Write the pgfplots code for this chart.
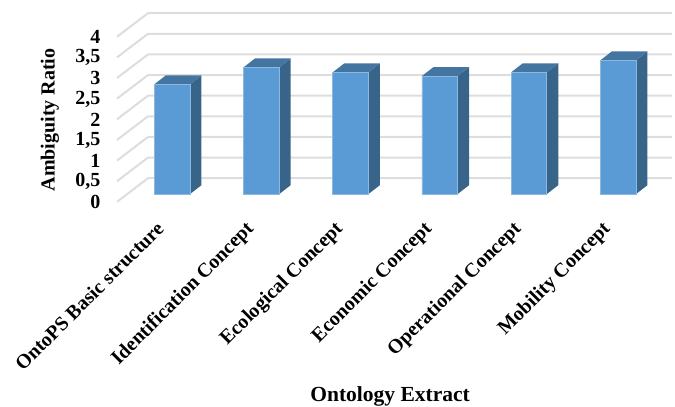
\documentclass[border=0pt]{standalone}
\usepackage{fontspec}
\setmainfont{Liberation Serif}
\usepackage{pgfplots}
\pgfplotsset{compat=1.18}
\definecolor{barfront}{HTML}{5B9BD5}
\definecolor{barside}{HTML}{39648A}
\definecolor{bartop}{HTML}{4475A1}
\definecolor{wallgrid}{HTML}{DDDDDD}
\pgfplotsset{
  wall/.style={draw=wallgrid, line width=2pt, no markers, forget plot},
  side/.style={fill=barside, draw=none, no markers, forget plot},
  top/.style={fill=bartop, draw=none, no markers, forget plot},
}
\begin{document}
\begin{tikzpicture}[x=1pt,y=1pt]
\path[use as bounding box] (0,0) rectangle (675,407);
\begin{axis}[
    at={(117pt,205pt)}, anchor=south west,
    scale only axis, width=555pt, height=189pt,
    xmin=-0.617, xmax=5.605,
    ymin=-0.19, ymax=4.39,
    clip=false,
    axis line style={draw=none},
    tick style={draw=none},
    xtick={0,1,2,3,4,5},
    xticklabels={OntoPS Basic structure,Identification Concept,Ecological Concept,Economic Concept,Operational Concept,Mobility Concept},
    x tick label style={rotate=45, anchor=north east, xshift=-21.2pt, yshift=2.7pt},
    ytick={0,0.5,1,1.5,2,2.5,3,3.5,4},
    y tick label style={yshift=-8pt, xshift=-13pt, anchor=east},
    /pgf/number format/assume math mode=true,
    /pgf/number format/use comma,
    every tick label/.append style={font=\bfseries\fontsize{20}{20}\selectfont},
    xlabel={Ontology Extract},
    ylabel={Ambiguity Ratio},
    every axis x label/.style={at={(axis description cs:0.492,-1.028)}, anchor=center, font=\bfseries\fontsize{21.5}{21.5}\selectfont},
    every axis y label/.style={at={(axis description cs:-0.121,0.434)}, anchor=center, rotate=90, font=\bfseries\fontsize{20}{20}\selectfont},
]
% walls: front edge, back corner, right end
\addplot[wall] coordinates {(-0.617,-0.186) (-0.269,0.387) (5.605,0.387)};
\addplot[wall] coordinates {(-0.617,0.314) (-0.269,0.887) (5.605,0.887)};
\addplot[wall] coordinates {(-0.617,0.814) (-0.269,1.387) (5.605,1.387)};
\addplot[wall] coordinates {(-0.617,1.314) (-0.269,1.887) (5.605,1.887)};
\addplot[wall] coordinates {(-0.617,1.814) (-0.269,2.387) (5.605,2.387)};
\addplot[wall] coordinates {(-0.617,2.314) (-0.269,2.887) (5.605,2.887)};
\addplot[wall] coordinates {(-0.617,2.814) (-0.269,3.387) (5.605,3.387)};
\addplot[wall] coordinates {(-0.617,3.314) (-0.269,3.887) (5.605,3.887)};
\addplot[wall] coordinates {(-0.617,3.814) (-0.269,4.387) (5.605,4.387)};
% right faces
\addplot[side] coordinates {(0.2,0) (0.33,0.218) (0.33,2.878) (0.2,2.66)};
\addplot[side] coordinates {(1.2,0) (1.33,0.218) (1.33,3.288) (1.2,3.07)};
\addplot[side] coordinates {(2.2,0) (2.33,0.218) (2.33,3.168) (2.2,2.95)};
\addplot[side] coordinates {(3.2,0) (3.33,0.218) (3.33,3.078) (3.2,2.86)};
\addplot[side] coordinates {(4.2,0) (4.33,0.218) (4.33,3.168) (4.2,2.95)};
\addplot[side] coordinates {(5.2,0) (5.33,0.218) (5.33,3.458) (5.2,3.24)};
% top faces
\addplot[top] coordinates {(-0.2,2.66) (-0.07,2.878) (0.33,2.878) (0.2,2.66)};
\addplot[top] coordinates {(0.8,3.07) (0.93,3.288) (1.33,3.288) (1.2,3.07)};
\addplot[top] coordinates {(1.8,2.95) (1.93,3.168) (2.33,3.168) (2.2,2.95)};
\addplot[top] coordinates {(2.8,2.86) (2.93,3.078) (3.33,3.078) (3.2,2.86)};
\addplot[top] coordinates {(3.8,2.95) (3.93,3.168) (4.33,3.168) (4.2,2.95)};
\addplot[top] coordinates {(4.8,3.24) (4.93,3.458) (5.33,3.458) (5.2,3.24)};
% front faces
\addplot[ybar, bar width=35.5pt, bar shift=0pt, fill=barfront, draw=barfront!70!white, line width=0.4pt] coordinates {
    (0,2.66) (1,3.07) (2,2.95) (3,2.86) (4,2.95) (5,3.24)
};
\end{axis}
\end{tikzpicture}
\end{document}
